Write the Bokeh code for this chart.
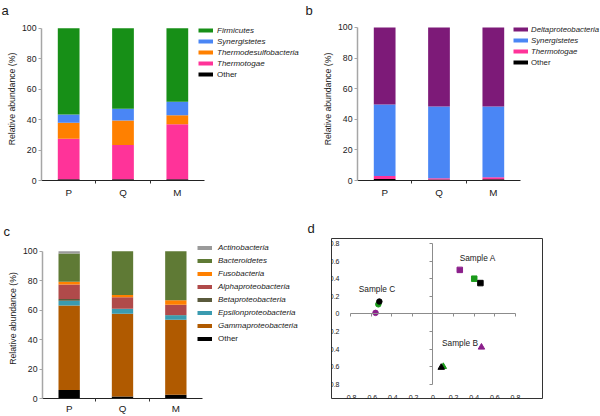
from bokeh.plotting import figure
from bokeh.models import Legend, LegendItem, FixedTicker, LinearAxis, Range1d, ColumnDataSource
from bokeh.layouts import column, row
from bokeh.embed import file_html
from bokeh.resources import INLINE
from bokeh.core.properties import value

FONT = "Liberation Sans"
TXT = "#1a1a1a"
NAN = float("nan")

# ---------------- data ----------------
categories = ["P", "Q", "M"]

# panel a (stack order bottom -> top)
a_names = ["Other", "Thermotogae", "Thermodesulfobacteria", "Synergistetes", "Firmicutes"]
a_other = [0.8, 0.8, 0.8]
a_thermotogae = [26.7, 22.6, 36.1]
a_thermodesulfobacteria = [10.5, 16.1, 6.0]
a_synergistetes = [5.4, 7.6, 8.9]
a_firmicutes = [56.6, 52.9, 48.2]
a_colors = ["#000000", "#ff3399", "#ff8000", "#4a86f5", "#178f17"]

# panel b
b_names = ["Other", "Thermotogae", "Synergistetes", "Deltaproteobacteria"]
b_other = [1.0, 0.7, 0.8]
b_thermotogae = [2.0, 0.8, 1.4]
b_synergistetes = [46.6, 46.8, 46.1]
b_deltaproteobacteria = [50.4, 51.7, 51.7]
b_colors = ["#000000", "#ff3399", "#4a86f5", "#7d1a78"]

# panel c
c_names = ["Other", "Gammaproteobacteria", "Epsilonproteobacteria", "Betaproteobacteria",
           "Alphaproteobacteria", "Fusobacteria", "Bacteroidetes", "Actinobacteria"]
c_other = [5.8, 1.3, 2.6]
c_gammaproteobacteria = [57.3, 56.3, 50.8]
c_epsilonproteobacteria = [3.3, 3.3, 3.1]
c_betaproteobacteria = [1.1, 0.0, 0.2]
c_alphaproteobacteria = [9.8, 7.8, 6.9]
c_fusobacteria = [1.9, 1.5, 3.1]
c_bacteroidetes = [19.3, 29.8, 33.3]
c_actinobacteria = [1.5, 0.0, 0.0]
c_colors = ["#000000", "#b05a00", "#3a9bb0", "#5a5a3c", "#b04a4a", "#ff8000", "#5f7a35", "#9a9a9a"]

# panel d (three samples, three colours per sample)
d_colors = ["#8b1f8b", "#1a9a1a", "#000000"]
sample_a_x = [0.26, 0.40, 0.46]
sample_a_y = [0.50, 0.40, 0.35]
sample_b_x = [0.47, 0.10, 0.08]
sample_b_y = [-0.38, -0.60, -0.61]
sample_c_x = [-0.557, -0.53, -0.52]
sample_c_y = [0.011, 0.108, 0.14]
sample_names = ["Sample A", "Sample B", "Sample C"]
sample_label_x = [0.433, 0.262, -0.543]
sample_label_y = [0.632, -0.336, 0.277]
d_ticks = [-0.8, -0.6, -0.4, -0.2, 0.0, 0.2, 0.4, 0.6, 0.8]
d_tick_labels = ["-0.8", "-0.6", "-0.4", "-0.2", "0", "0.2", "0.4", "0.6", "0.8"]

y_ticks = [0, 20, 40, 60, 80, 100]
Y_MAX = 100

W, H = 300, 208


def stacked_panel(letter, names, series, colors, left, fw, top, top_frame, bottom, title_dx,
                  leg_x, leg_top, item_h, item_gap, glyph_w, leg_standoff, leg_font, x_standoff):
    # fw/fh: pixel size of the data area (3 categories x 0..100 %);
    # the frame itself runs to the right edge and a little higher so the legends fit in it.
    fh = H - top - bottom
    n = len(categories)
    xs = [i + 0.5 for i in range(n)]
    data = {"x": xs}
    for nm, vals in zip(names, series):
        data[nm] = vals
    src = ColumnDataSource(data)
    x_end = n * (W - left) / fw
    y_end = Y_MAX * (fh + top - top_frame) / fh
    p = figure(width=W, height=H, output_backend="svg", toolbar_location=None,
               x_range=Range1d(0, x_end), y_range=Range1d(0, y_end),
               min_border_left=left, min_border_right=0,
               min_border_top=top_frame, min_border_bottom=bottom)
    p.vbar_stack(names, x="x", width=0.4, source=src, fill_color=colors, line_color=None)
    p.grid.visible = False
    p.outline_line_color = None
    p.background_fill_color = None
    p.border_fill_color = None

    xa = p.xaxis[0]
    xa.bounds = (0, n)
    xa.ticker = FixedTicker(ticks=xs, minor_ticks=[i for i in range(1, n)])
    xa.major_label_overrides = {x: c for x, c in zip(xs, categories)}
    xa.major_tick_line_color = None
    xa.major_tick_out = 0
    xa.major_tick_in = 0
    xa.minor_tick_line_color = "#333333"
    xa.minor_tick_out = 3
    xa.minor_tick_in = 0
    xa.axis_line_color = "#222222"
    xa.axis_line_width = 1
    xa.major_label_standoff = x_standoff
    xa.major_label_text_font = FONT
    xa.major_label_text_font_size = "9.8px"
    xa.major_label_text_color = TXT

    ya = p.yaxis[0]
    ya.bounds = (0, Y_MAX)
    ya.ticker = FixedTicker(ticks=y_ticks)
    ya.axis_line_color = "#a6a6a6"
    ya.axis_line_width = 1.5
    ya.major_tick_line_color = "#a6a6a6"
    ya.major_tick_out = 3
    ya.major_tick_in = 0
    ya.minor_tick_line_color = None
    ya.major_label_standoff = 2
    ya.major_label_text_font = FONT
    ya.major_label_text_font_size = "8.7px"
    ya.major_label_text_color = TXT
    ya.axis_label = "Relative abundance (%)"
    ya.axis_label_text_font = FONT
    ya.axis_label_text_font_size = "8.7px"
    ya.axis_label_text_font_style = "normal"
    ya.axis_label_text_color = TXT
    ya.axis_label_standoff = 2

    p.title.text = letter
    p.title.text_font = FONT
    p.title.text_font_size = "13px"
    p.title.text_font_style = "normal"
    p.title.text_color = TXT
    p.title.offset = title_dx
    p.title.standoff = 0

    # legend proxies (draw nothing in the plot): thick short lines as swatches
    proxies = [p.line(x=[NAN], y=[NAN], line_color=c, line_width=4) for c in colors]
    italic_items = [LegendItem(label=nm, renderers=[r]) for nm, r in
                    reversed(list(zip(names[1:], proxies[1:])))]
    other_items = [LegendItem(label=names[0], renderers=[proxies[0]])]
    k = len(italic_items)
    h1 = k * item_h + (k - 1) * item_gap
    y1 = fh - (leg_top + h1)
    y2 = fh - (leg_top + h1 + item_gap + item_h)
    common = dict(padding=0, margin=0, spacing=item_gap, border_line_color=None,
                  background_fill_alpha=0, glyph_width=glyph_w, glyph_height=item_h,
                  label_height=item_h, label_standoff=leg_standoff,
                  label_text_font=FONT, label_text_font_size=leg_font,
                  label_text_color=TXT, inactive_fill_alpha=0)
    l1 = Legend(items=italic_items, location=(leg_x, y1), label_text_font_style="italic", **common)
    l2 = Legend(items=other_items, location=(leg_x, y2), label_text_font_style="normal", **common)
    p.add_layout(l1)
    p.add_layout(l2)
    return p


pa = stacked_panel("a", a_names,
                   [a_other, a_thermotogae, a_thermodesulfobacteria, a_synergistetes, a_firmicutes],
                   a_colors, left=41, fw=163, top=27, top_frame=16, bottom=27, title_dx=-40,
                   leg_x=157, leg_top=-1, item_h=10, item_gap=1, glyph_w=15, leg_standoff=4,
                   leg_font="8px", x_standoff=3)
pb = stacked_panel("b", b_names,
                   [b_other, b_thermotogae, b_synergistetes, b_deltaproteobacteria],
                   b_colors, left=57, fw=163, top=26, top_frame=16, bottom=28, title_dx=-52,
                   leg_x=156, leg_top=-2, item_h=10, item_gap=1, glyph_w=15, leg_standoff=3,
                   leg_font="7.8px", x_standoff=3)
pc = stacked_panel("c", c_names,
                   [c_other, c_gammaproteobacteria, c_epsilonproteobacteria, c_betaproteobacteria,
                    c_alphaproteobacteria, c_fusobacteria, c_bacteroidetes, c_actinobacteria],
                   c_colors, left=42, fw=160, top=42, top_frame=29, bottom=15, title_dx=-39,
                   leg_x=155, leg_top=-5, item_h=11, item_gap=2, glyph_w=15, leg_standoff=6,
                   leg_font="8px", x_standoff=1)

# ---------------- panel d ----------------
pd_ = figure(width=W, height=H, output_backend="svg", toolbar_location=None,
             x_range=Range1d(-0.984, 1.062), y_range=Range1d(-0.963, 0.857),
             x_axis_location=None, y_axis_location=None,
             min_border_left=31, min_border_right=58, min_border_top=30, min_border_bottom=10)
pd_.grid.visible = False
pd_.outline_line_color = "#333333"
pd_.outline_line_width = 1
pd_.background_fill_color = None
pd_.border_fill_color = None

lab_over = dict(zip(d_ticks, d_tick_labels))
for place, std in (("left", 5), ("below", 5)):
    ax = LinearAxis(fixed_location=d_ticks[0], ticker=FixedTicker(ticks=d_ticks),
                    major_label_overrides=lab_over, axis_line_color=None,
                    major_tick_line_color=None, minor_tick_line_color=None,
                    major_label_standoff=std, major_label_text_font=FONT,
                    major_label_text_font_size="7px", major_label_text_color=TXT)
    pd_.add_layout(ax, place)
for place in ("left", "below"):
    ax = LinearAxis(fixed_location=0, ticker=FixedTicker(ticks=d_ticks),
                    bounds=(d_ticks[0], d_ticks[-1]), axis_line_color="#8c8c8c",
                    axis_line_width=1, major_tick_line_color="#8c8c8c",
                    major_tick_in=0, major_tick_out=3, minor_tick_line_color=None,
                    major_label_text_color=None)
    pd_.add_layout(ax, place)

pd_.scatter(x=sample_a_x, y=sample_a_y, marker="square", size=5.5,
            fill_color=d_colors, line_color=d_colors)
pd_.scatter(x=sample_b_x, y=sample_b_y, marker="triangle", size=6.5,
            fill_color=d_colors, line_color=d_colors)
pd_.scatter(x=sample_c_x, y=sample_c_y, marker="circle", size=5.5,
            fill_color=d_colors, line_color=d_colors)
pd_.text(x=sample_label_x, y=sample_label_y, text=sample_names, text_font=value(FONT),
         text_font_size="8.3px", text_align="center", text_baseline="middle", text_color=TXT)

pd_.title.text = "d"
pd_.title.text_font = FONT
pd_.title.text_font_size = "13px"
pd_.title.text_font_style = "normal"
pd_.title.text_color = TXT
pd_.title.offset = -24
pd_.title.standoff = 6

layout = column(row(pa, pb), row(pc, pd_))
open("out.html", "w").write(file_html(layout, INLINE))
